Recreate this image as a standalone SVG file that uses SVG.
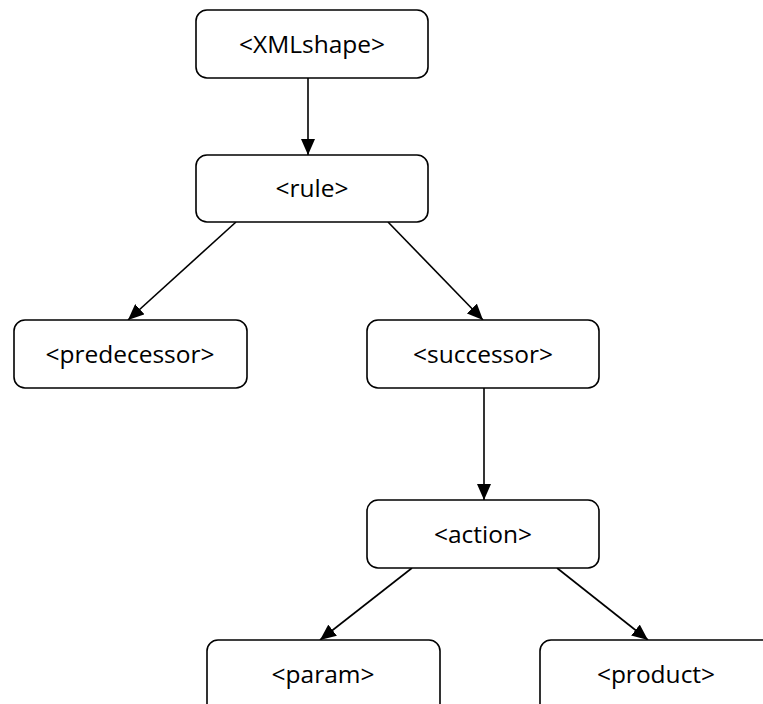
<svg xmlns="http://www.w3.org/2000/svg" width="763" height="704" viewBox="0 0 763 704">
<style>
.box{fill:#fff;stroke:#000;stroke-width:1.6}
.lbl{font-family:"Open Sans","Noto Sans","Liberation Sans",sans-serif;font-size:24.5px;fill:#000;text-anchor:middle}
.con{stroke:#000;stroke-width:1.6;fill:none;marker-end:url(#ah)}
</style>
<defs>
<marker id="ah" markerUnits="userSpaceOnUse" markerWidth="16" markerHeight="14" viewBox="0 0 16 14" refX="16" refY="7" orient="auto">
<path d="M0,0 L16,7 L0,14 Z" fill="#000"/>
</marker>
</defs>
<rect width="763" height="704" fill="#fff"/>
<g id="connectors">
<line class="con" x1="308" y1="78" x2="308" y2="155"/>
<line class="con" x1="236" y1="222" x2="128" y2="320"/>
<line class="con" x1="388" y1="222" x2="483" y2="320"/>
<line class="con" x1="484" y1="388" x2="484" y2="500"/>
<line class="con" x1="412" y1="568" x2="320" y2="640"/>
<line class="con" x1="557" y1="568" x2="648" y2="640"/>
</g>
<g id="xmlshape"><rect class="box" x="196" y="10" width="232" height="68" rx="11"/><text class="lbl" x="312" y="52.5">&lt;XMLshape&gt;</text></g>
<g id="rule"><rect class="box" x="196" y="155" width="232" height="67" rx="11"/><text class="lbl" x="312" y="197">&lt;rule&gt;</text></g>
<g id="predecessor"><rect class="box" x="14" y="320" width="233" height="68" rx="11"/><text class="lbl" x="130" y="362.5">&lt;predecessor&gt;</text></g>
<g id="successor"><rect class="box" x="367" y="320" width="232" height="68" rx="11"/><text class="lbl" x="483" y="362.5">&lt;successor&gt;</text></g>
<g id="action"><rect class="box" x="367" y="500" width="232" height="68" rx="11"/><text class="lbl" x="483" y="542.5">&lt;action&gt;</text></g>
<g id="param"><rect class="box" x="207" y="640" width="233" height="80" rx="11"/><text class="lbl" x="323" y="682.5">&lt;param&gt;</text></g>
<g id="product"><rect class="box" x="540" y="640" width="240" height="80" rx="11"/><text class="lbl" x="656" y="682.5">&lt;product&gt;</text></g>
</svg>
